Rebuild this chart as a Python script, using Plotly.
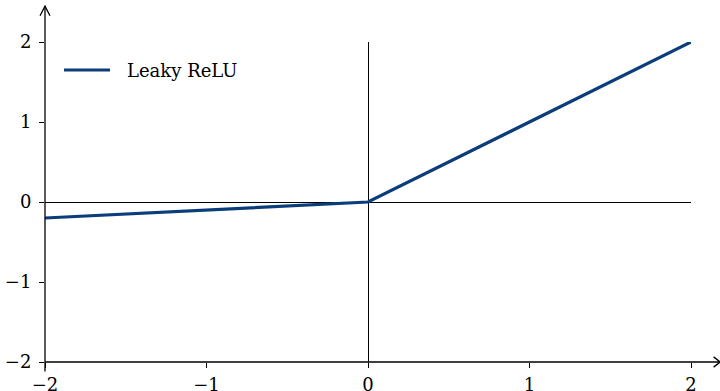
import plotly.graph_objects as go

# Leaky ReLU sampled at its breakpoints (slope 0.1 for negative inputs)
x_vals = [-2, 0, 2]
y_vals = [-0.2, 0, 2]
series_name = "Leaky ReLU"
tick_vals = [-2, -1, 0, 1, 2]

line_color = "#0b3d7a"
font_family = "'DejaVu Serif', 'Liberation Serif', serif"

fig = go.Figure()
fig.add_trace(go.Scatter(
    x=x_vals, y=y_vals, mode="lines", name=series_name,
    line=dict(color=line_color, width=3.2), showlegend=False,
))

axis_common = dict(
    tickvals=tick_vals,
    showgrid=False,
    zeroline=True, zerolinecolor="black", zerolinewidth=1,
    showline=False,
    automargin=False,
    ticks="outside", ticklen=5, tickwidth=1, tickcolor="black",
    tickfont=dict(family=font_family, size=18, color="black"),
)

fig.update_xaxes(range=[-2, 2], ticklabelstandoff=1, **axis_common)
fig.update_yaxes(range=[-2, 2], ticklabelstandoff=4, **axis_common)

# Axis spines with open arrowheads, extending beyond the plotting area
black = dict(color="black", width=1.3)
fig.add_shape(type="line", xref="paper", yref="paper",
              x0=0, y0=-0.03, x1=0, y1=1.112, line=black)
fig.add_shape(type="line", xref="paper", yref="paper",
              x0=0, y0=0, x1=1.045, y1=0, line=black)
# y arrowhead
fig.add_shape(type="path", xref="paper", yref="paper",
              path="M -0.0077,1.082 L 0,1.112 L 0.0077,1.082", line=black)
# x arrowhead
fig.add_shape(type="path", xref="paper", yref="paper",
              path="M 1.035,0.016 L 1.045,0 L 1.035,-0.016", line=black)

# Legend key: line sample plus label
fig.add_shape(type="line", xref="paper", yref="paper",
              x0=0.0294, x1=0.1006, y0=0.9125, y1=0.9125,
              line=dict(color=line_color, width=3.2))
fig.add_annotation(xref="paper", yref="paper", x=0.1238, y=0.9125,
                   xanchor="left", yanchor="middle", showarrow=False,
                   text=series_name,
                   font=dict(family=font_family, size=18, color="black"))

fig.update_layout(
    width=720, height=391,
    margin=dict(l=45, r=29, t=42, b=29),
    paper_bgcolor="white", plot_bgcolor="white",
    showlegend=False,
    font=dict(family=font_family),
)

fig.write_html("out.html")
